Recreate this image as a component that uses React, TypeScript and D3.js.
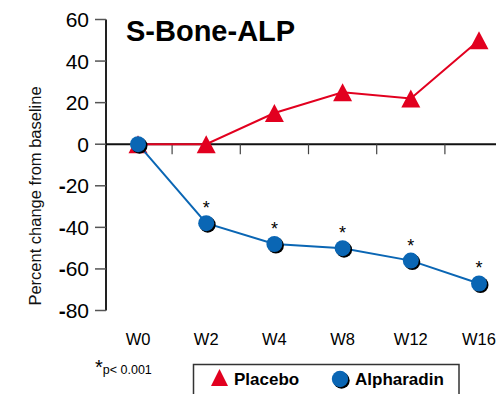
import React from "react";
import * as d3 from "d3";

const weeks = ["W0", "W2", "W4", "W8", "W12", "W16"];
const placebo = [0, 0, 15, 25, 22, 50];
const alpharadin = [0, -38, -48, -50, -56, -67];
const significant = [false, true, true, true, true, true];
const yTicks = [60, 40, 20, 0, -20, -40, -60, -80];

const W = 496;
const H = 394;
const FONT = "'Liberation Sans', Arial, Helvetica, sans-serif";
const RED = "#e2001f";
const BLUE = "#0a66b4";

export default function App() {
  const x = d3.scalePoint<string>().domain(weeks).range([138, 479]);
  const y = d3.scaleLinear().domain([-80, 60]).range([310.5, 19.5]);
  const axisX = 106;
  const y0 = y(0);
  const step = x.step();

  const line = d3
    .line<number>()
    .x((_, i) => x(weeks[i]) as number)
    .y((d) => y(d));

  // triangle centred on the point (bbox centre)
  const tri = (cx: number, cy: number, w = 19, h = 18) =>
    `M${cx},${cy - h / 2}L${cx + w / 2},${cy + h / 2}L${cx - w / 2},${cy + h / 2}Z`;

  return (
    <svg
      width={W}
      height={H}
      style={{ position: "absolute", left: 0, top: 0, background: "#fff" }}
      fontFamily={FONT}
    >
      {/* title */}
      <text x={126} y={41} fontSize={29} fontWeight="bold" fill="#000">
        S-Bone-ALP
      </text>

      {/* y axis */}
      <line x1={axisX} x2={axisX} y1={y(60)} y2={y(-80)} stroke="#222" strokeWidth={2} />
      {yTicks.map((t) => (
        <g key={t}>
          <line x1={95} x2={axisX} y1={y(t)} y2={y(t)} stroke="#555" strokeWidth={1.5} />
          <text x={89} y={y(t) + 7.5} fontSize={21} textAnchor="end" fill="#000">
            {t < 0 ? (
              <>
                <tspan fontWeight="bold">-</tspan>
                {String(Math.abs(t))}
              </>
            ) : (
              String(t)
            )}
          </text>
        </g>
      ))}
      <text
        transform={`translate(41,196) rotate(-90)`}
        fontSize={16.5}
        textAnchor="middle"
        fill="#111"
      >
        Percent change from baseline
      </text>

      {/* x axis */}
      <line x1={axisX} x2={W} y1={y0} y2={y0} stroke="#111" strokeWidth={2} />
      {weeks.slice(1).map((w) => {
        const tx = (x(w) as number) - step / 2;
        return <line key={w} x1={tx} x2={tx} y1={y0} y2={y0 + 10} stroke="#444" strokeWidth={1.2} />;
      })}
      {weeks.map((w) => (
        <text key={w} x={x(w)} y={345} fontSize={16.5} textAnchor="middle" fill="#000">
          {w}
        </text>
      ))}

      {/* placebo */}
      <path d={line(placebo) || ""} fill="none" stroke={RED} strokeWidth={2} />
      {placebo.map((v, i) => (
        <path key={i} d={tri(x(weeks[i]) as number, y(v))} fill={RED} />
      ))}

      {/* alpharadin */}
      <path d={line(alpharadin) || ""} fill="none" stroke={BLUE} strokeWidth={2} />
      {alpharadin.map((v, i) => {
        const cx = x(weeks[i]) as number;
        const cy = y(v);
        return (
          <g key={i}>
            <circle cx={cx + 1.5} cy={cy + 1.5} r={8} fill="#000" />
            <circle cx={cx} cy={cy} r={8} fill={BLUE} />
            {significant[i] && (
              <text x={cx} y={cy - 9} fontSize={18} textAnchor="middle" fill="#000">
                *
              </text>
            )}
          </g>
        );
      })}

      {/* footnote */}
      <text x={95} y={374} fill="#000">
        <tspan fontSize={20}>*</tspan>
        <tspan fontSize={12.5}>p&lt; 0.001</tspan>
      </text>

      {/* legend */}
      <rect x={193.5} y={364.5} width={265.5} height={40} fill="#fff" stroke="#333" strokeWidth={1.5} />
      <path d={tri(219.5, 377.5, 17, 17)} fill={RED} />
      <text x={234} y={385} fontSize={17} fontWeight="bold" fill="#000">
        Placebo
      </text>
      <circle cx={341.5} cy={380.5} r={8.2} fill="#000" />
      <circle cx={340} cy={379} r={8.2} fill={BLUE} />
      <text x={355} y={385} fontSize={17} fontWeight="bold" fill="#000">
        Alpharadin
      </text>
    </svg>
  );
}
